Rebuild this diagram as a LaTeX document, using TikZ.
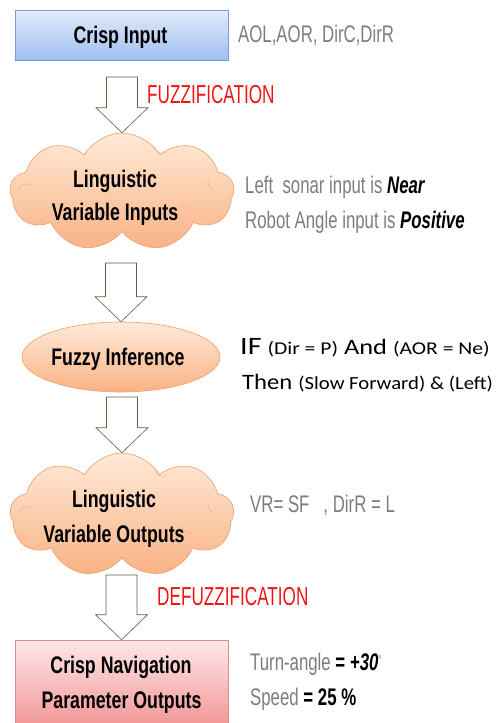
\documentclass[tikz,border=0pt]{standalone}
\usepackage{fontspec}
\setmainfont{Liberation Sans}
\newfontfamily\narrow[FakeStretch=0.7]{Liberation Sans}
\newfontfamily\slim[FakeStretch=0.74]{Liberation Sans}
\newfontfamily\redfont[FakeStretch=0.66]{Liberation Sans}
\newfontfamily\calibif[FakeStretch=1.2]{Carlito}
\newfontfamily\calibthen[FakeStretch=1.12]{Carlito}
\usetikzlibrary{shapes.symbols,shapes.geometric,calc}

\definecolor{bluetop}{RGB}{226,236,253}
\definecolor{bluebot}{RGB}{160,190,240}
\definecolor{blueline}{RGB}{120,155,215}
\definecolor{pinktop}{RGB}{253,232,232}
\definecolor{pinkbot}{RGB}{242,150,150}
\definecolor{pinkline}{RGB}{225,140,140}
\definecolor{peachtop}{RGB}{255,234,216}
\definecolor{peachbot}{RGB}{249,178,132}
\definecolor{peachline}{RGB}{240,160,105}
\definecolor{foldline}{RGB}{242,175,130}
\definecolor{arrowline}{RGB}{95,95,70}
\definecolor{notegray}{RGB}{125,125,125}
\definecolor{stagered}{RGB}{240,20,20}

% hollow block arrow from a start point down to the tip on the next stage
\newcommand\blockarrow[2]{%
  \draw[hollowarrow] let \p1=(#1), \p2=(#2) in
    (\x2-15.5pt,\y1) -- (\x2+15.5pt,\y1) -- (\x2+15.5pt,\y2+25pt)
    -- (\x2+26pt,\y2+25pt) -- (\x2,\y2) -- (\x2-26pt,\y2+25pt)
    -- (\x2-15.5pt,\y2+25pt) -- cycle;}

% small interior folds of a cloud
\newcommand\cloudfolds[1]{%
  \begin{scope}[shift={(#1.center)}]
    \draw[fold] (-104,-2) arc[start angle=200, end angle=300, radius=9];
    \draw[fold] (33,-44) arc[start angle=160, end angle=60, radius=8];
    \draw[fold] (86,-12) arc[start angle=190, end angle=110, radius=9];
    \draw[fold] (60,12) arc[start angle=160, end angle=80, radius=10];
    \draw[fold] (-86,34) arc[start angle=200, end angle=290, radius=8];
  \end{scope}}

\begin{document}
\begin{tikzpicture}[x=1pt,y=-1pt,
  hollowarrow/.style={draw=arrowline, fill=white, line width=0.6pt},
  crispbox/.style={rectangle, minimum width=213pt, inner sep=0pt, line width=0.6pt},
  puff/.style={cloud, cloud puffs=9, cloud puff arc=120, cloud ignores aspect,
    inner sep=0pt, draw=peachline, line width=0.6pt, top color=peachtop, bottom color=peachbot},
  fold/.style={draw=foldline, line width=0.5pt},
  stagelabel/.style={font=\slim\bfseries\fontsize{24}{24}\selectfont, text=black, anchor=base, inner sep=0pt},
  note/.style={font=\narrow\fontsize{24}{24}\selectfont, text=notegray, anchor=base west, inner sep=0pt},
  stepname/.style={font=\redfont\fontsize{26}{26}\selectfont, text=stagered, anchor=base west, inner sep=0pt},
  rule/.style={text=black, anchor=base west, inner sep=0pt},
]
\useasboundingbox (0,0) rectangle (497,723);
\clip (0,0) rectangle (497,723);

% stages
\node[crispbox, minimum height=50pt, draw=blueline, top color=bluetop, bottom color=bluebot]
  (input) at (121.5,35) {};
\node[puff, minimum width=224pt, minimum height=118pt] (lvi) at (122,192) {};
\cloudfolds{lvi}
\node[ellipse, minimum width=198pt, minimum height=70pt, inner sep=0pt,
  draw=peachline, line width=0.6pt, top color=peachtop, bottom color=peachbot]
  (infer) at (121,357) {};
\node[puff, minimum width=224pt, minimum height=124pt] (lvo) at (122,515) {};
\cloudfolds{lvo}
\node[crispbox, minimum height=86pt, draw=pinkline, top color=pinktop, bottom color=pinkbot]
  (output) at (121.5,683) {};

% stage captions
\node[stagelabel] (inputtxt) at (120.5,43) {Crisp Input};
\node[stagelabel] (lvitxt1) at (115,187) {Linguistic};
\node[stagelabel] (lvitxt2) at (115,220) {Variable Inputs};
\node[stagelabel] (infertxt) at (118,365) {Fuzzy Inference};
\node[stagelabel] (lvotxt1) at (114,507) {Linguistic};
\node[stagelabel] (lvotxt2) at (114,542) {Variable Outputs};
\node[stagelabel] (outtxt1) at (121,673) {Crisp Navigation};
\node[stagelabel] (outtxt2) at (121.5,708) {Parameter Outputs};

% arrows between stages
\coordinate (a1) at (122,77);
\coordinate (a2) at (122,263);
\coordinate (a3) at (122,397);
\coordinate (a4) at (122,575);
\blockarrow{a1}{lvi.north}
\blockarrow{a2}{infer.north}
\blockarrow{a3}{lvo.north}
\blockarrow{a4}{output.north}

% step names
\node[stepname] (fuzz) at (147,103) {FUZZIFICATION};
\node[stepname] (defuzz) at (157,605) {DEFUZZIFICATION};

% notes beside each stage
\node[note] (n1) at (238,42) {AOL,AOR, DirC,DirR};
\node[note] (n2) at (245,193) {Left\ \ sonar input is \textcolor{black}{\bfseries\itshape Near}};
\node[note] (n3) at (245,228) {Robot Angle input is \textcolor{black}{\bfseries\itshape Positive}};
\node[rule, font=\calibif] (r1) at (240,354) {{\fontsize{25}{25}\selectfont IF}\hspace{6pt}{\fontsize{18}{18}\selectfont (Dir = P)}\hspace{6pt}{\fontsize{22}{22}\selectfont And}\hspace{6pt}{\fontsize{18}{18}\selectfont (AOR = Ne)}};
\node[rule, font=\calibthen] (r2) at (242,389) {{\fontsize{22}{22}\selectfont Then}\hspace{6pt}{\fontsize{18.5}{18.5}\selectfont (Slow Forward) \& (Left)}};
\node[note] (n4) at (250,512) {VR= SF\ \ \ , DirR = L};
\node[note] (n5) at (250,670) {Turn-angle \textcolor{black}{\bfseries = \itshape +30}\raisebox{7pt}{\fontsize{11}{11}\selectfont °}};
\node[note] (n6) at (250,705) {Speed\ \textcolor{black}{\bfseries = 25 \%}};
\end{tikzpicture}
\end{document}
